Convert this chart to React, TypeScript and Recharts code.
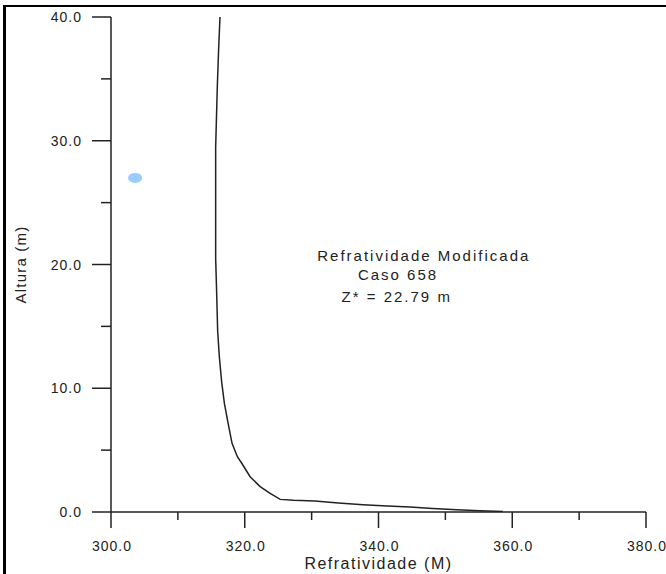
import React from 'react';
import { ComposedChart, Line, Scatter, XAxis, YAxis, ReferenceDot } from 'recharts';

const refrValues = [316.3, 316.1, 315.9, 315.65, 315.65, 315.8, 315.95, 316.2, 316.55, 316.95, 317.5, 318.1, 318.9, 319.6, 320.8, 322.3, 323.8, 325.3, 327.3, 330.5, 334.0, 337.7, 341.3, 344.7, 348.1, 351.7, 355.2, 358.6];
const altValues = [40, 37.5, 34.4, 29.5, 20.5, 17.7, 14.6, 12.55, 10.5, 8.8, 7.2, 5.55, 4.47, 3.9, 2.85, 2.05, 1.5, 1.02, 0.94, 0.88, 0.72, 0.59, 0.49, 0.4, 0.28, 0.19, 0.11, 0.04];

const markerX = [303.6];
const markerY = [27.0];

const xTicks = [300, 310, 320, 330, 340, 350, 360, 370, 380];
const yTicks = [0, 5, 10, 15, 20, 25, 30, 35, 40];

const annotationText = ['Refratividade Modificada', 'Caso 658', 'Z* = 22.79 m'];
const annotationX = [330.84, 336.92, 334.48];
const annotationY = [20.29, 18.71, 17.0];

const xLabel = 'Refratividade (M)';
const yLabel = 'Altura (m)';

const curveData = refrValues.map((r, i) => ({ x: r, y: altValues[i] }));
const markerData = markerX.map((x, i) => ({ x, y: markerY[i] }));

const FONT = '"Liberation Sans", Arial, sans-serif';
const INK = '#222';

const XTick = (props: any) => {
  const { x, y, payload } = props;
  const v = payload.value as number;
  const major = v % 20 === 0;
  return (
    <g>
      <line x1={x} y1={y} x2={x} y2={y + (major ? 16 : 8)} stroke={INK} strokeWidth={1.5} />
      {major && (
        <text x={x + 1} y={y + 39} textAnchor="middle" fontFamily={FONT} fontSize={14} letterSpacing={1} fill={INK}>
          {v.toFixed(1)}
        </text>
      )}
    </g>
  );
};

const YTick = (props: any) => {
  const { x, y, payload } = props;
  const v = payload.value as number;
  const major = v % 10 === 0;
  return (
    <g>
      <line x1={x - (major ? 19 : 10)} y1={y} x2={x} y2={y} stroke={INK} strokeWidth={1.5} />
      {major && (
        <text x={x - 29} y={y + 5} textAnchor="end" fontFamily={FONT} fontSize={14} letterSpacing={1} fill={INK}>
          {v.toFixed(1)}
        </text>
      )}
    </g>
  );
};

const XLabel = (props: any) => {
  const vb = props.viewBox;
  return (
    <text x={vb.x + vb.width / 2} y={vb.y + vb.height - 5} textAnchor="middle" fontFamily={FONT} fontSize={16} letterSpacing={1.5} fill={INK}>
      {xLabel}
    </text>
  );
};

const YLabel = (props: any) => {
  const vb = props.viewBox;
  const cx = vb.x + 26;
  const cy = vb.y + vb.height / 2;
  return (
    <text x={cx} y={cy} transform={`rotate(-90 ${cx} ${cy})`} textAnchor="middle" fontFamily={FONT} fontSize={15} letterSpacing={1.2} fill={INK}>
      {yLabel}
    </text>
  );
};

const Ellipse = (props: any) => <ellipse cx={props.cx} cy={props.cy} rx={7} ry={5} fill="#99CCFF" />;

export default function App() {
  return (
    <div style={{ position: 'absolute', left: 0, top: 0, width: 666, height: 574, background: '#fff' }}>
      <ComposedChart width={666} height={574} margin={{ top: 17, right: 20, left: 0, bottom: 0 }}>
        <XAxis
          type="number"
          dataKey="x"
          domain={[300, 380]}
          ticks={xTicks}
          allowDataOverflow
          height={62}
          tickSize={0}
          tickMargin={0}
          tickLine={false}
          axisLine={{ stroke: INK, strokeWidth: 1.5 }}
          tick={<XTick />}
          label={<XLabel />}
        />
        <YAxis
          type="number"
          dataKey="y"
          domain={[0, 40]}
          ticks={yTicks}
          allowDataOverflow
          width={111}
          tickSize={0}
          tickMargin={0}
          tickLine={false}
          axisLine={{ stroke: INK, strokeWidth: 1.5 }}
          tick={<YTick />}
          label={<YLabel />}
        />
        <Line data={curveData} dataKey="y" type="linear" stroke={INK} strokeWidth={1.5} dot={false} isAnimationActive={false} />
        <Scatter data={markerData} dataKey="y" shape={<Ellipse />} isAnimationActive={false} />
        {annotationText.map((t, i) => (
          <ReferenceDot
            key={i}
            x={annotationX[i]}
            y={annotationY[i]}
            r={0}
            shape={(p: any) => (
              <text x={p.cx} y={p.cy} fontFamily={FONT} fontSize={15} letterSpacing={2} fill={INK}>
                {t}
              </text>
            )}
          />
        ))}
      </ComposedChart>
      <div
        style={{
          position: 'absolute',
          left: 3,
          top: 5,
          right: 0,
          bottom: 0,
          borderLeft: '3px solid #000',
          borderTop: '2px solid #000',
          pointerEvents: 'none',
        }}
      />
    </div>
  );
}
